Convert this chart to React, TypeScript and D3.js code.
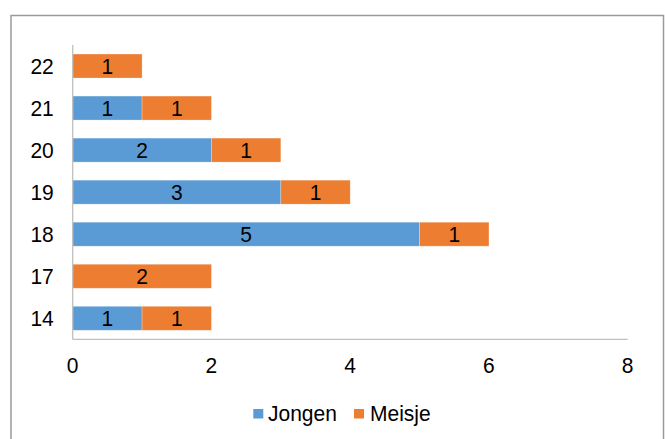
import React from "react";
import * as d3 from "d3";

const categories = ["22", "21", "20", "19", "18", "17", "14"];
const jongen = [0, 1, 2, 3, 5, 0, 1];
const meisje = [1, 1, 1, 1, 1, 2, 1];
const xTicks = [0, 2, 4, 6, 8];
const seriesNames = ["Jongen", "Meisje"];
const colors = ["#5B9BD5", "#ED7D31"];

const W = 665;
const H = 439;
const FONT = "'Liberation Sans', Arial, sans-serif";
const FS = 21;
const SY = 1.06;

function T({ x, y, anchor, children, fill = "#000" }: any) {
  return (
    <text
      transform={`translate(${x},${y}) scale(1,${SY})`}
      textAnchor={anchor}
      fontFamily={FONT}
      fontSize={FS}
      fill={fill}
    >
      {children}
    </text>
  );
}

export default function App() {
  const x = d3.scaleLinear().domain([0, 8]).range([72.7, 627.7]);
  const y = d3
    .scaleBand<string>()
    .domain(categories)
    .range([45, 339.3])
    .paddingInner(0.43)
    .paddingOuter(0.215);

  const rows = categories.map((c, i) => ({ cat: c, Jongen: jongen[i], Meisje: meisje[i] }));
  const stack = d3.stack<any>().keys(seriesNames)(rows);
  const mid = (c: string) => y(c)! + y.bandwidth() / 2 + FS * 0.35 * SY;

  return (
    <div style={{ position: "fixed", left: 0, top: 0, width: W, height: H, background: "#fff" }}>
      <svg width={W} height={H} style={{ display: "block" }}>
        <rect x={11} y={15.5} width={652.5} height={440} fill="#fff" stroke="#9a9a9a" strokeWidth={1.5} />
        {stack.map((s, si) =>
          s.map((d, i) => {
            const v = d[1] - d[0];
            if (v <= 0) return null;
            const x0 = x(d[0]);
            const x1 = x(d[1]);
            const yy = y(categories[i])!;
            return (
              <g key={`${si}-${i}`}>
                <rect x={x0} y={yy} width={x1 - x0} height={y.bandwidth()} fill={colors[si]} stroke="#fff" strokeOpacity={0.35} strokeWidth={0.7} />
                <T x={(x0 + x1) / 2} y={mid(categories[i])} anchor="middle">
                  {v}
                </T>
              </g>
            );
          })
        )}
        <line x1={72.7} x2={72.7} y1={45} y2={339.3} stroke="#bfbfbf" strokeWidth={1.3} />
        <line x1={72.7} x2={627.7} y1={339.3} y2={339.3} stroke="#bfbfbf" strokeWidth={1.3} />
        {categories.map((c) => (
          <T key={c} x={53.8} y={mid(c)} anchor="end">
            {c}
          </T>
        ))}
        {xTicks.map((t) => (
          <T key={t} x={x(t)} y={372.5} anchor="middle">
            {t}
          </T>
        ))}
        <rect x={253.3} y={409} width={10} height={9.5} fill={colors[0]} />
        <T x={268} y={420.5} anchor="start">
          {seriesNames[0]}
        </T>
        <rect x={354} y={409} width={10} height={9.5} fill={colors[1]} />
        <T x={370} y={420.5} anchor="start">
          {seriesNames[1]}
        </T>
      </svg>
    </div>
  );
}
